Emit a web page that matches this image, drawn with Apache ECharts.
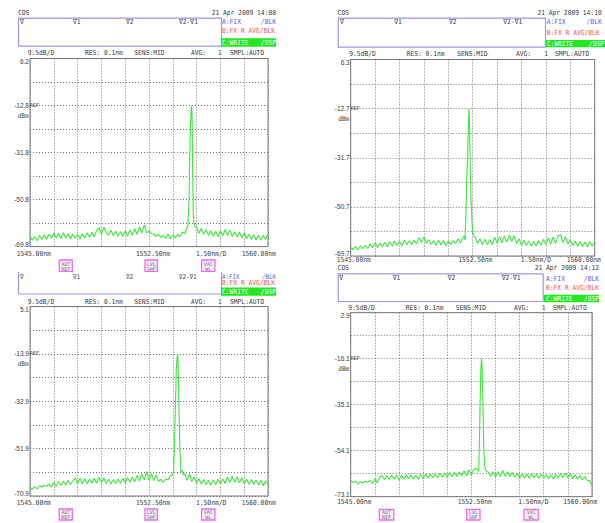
<!DOCTYPE html>
<html><head><meta charset="utf-8">
<script src="https://cdn.jsdelivr.net/npm/echarts@6/dist/echarts.min.js"></script>
<style>
html,body{margin:0;padding:0;background:#fff;width:605px;height:523px;overflow:hidden;}
.p{position:absolute;overflow:hidden;background:#fff;}
</style></head><body>
<div id="p1" class="p"></div>
<div id="p2" class="p"></div>
<div id="p3" class="p"></div>
<div id="p4" class="p"></div>
<script>
// ---------- DATA ----------
const wlGrid = [
1545.00,1545.15,1545.30,1545.45,1545.60,1545.75,1545.90,
1546.05,1546.20,1546.35,1546.50,1546.65,1546.80,1546.95,
1547.10,1547.25,1547.40,1547.55,1547.70,1547.85,
1548.00,1548.15,1548.30,1548.45,1548.60,1548.75,1548.90,
1549.05,1549.20,1549.35,1549.50,1549.65,1549.80,1549.95,
1550.10,1550.25,1550.40,1550.55,1550.70,1550.85,
1551.00,1551.15,1551.30,1551.45,1551.60,1551.75,1551.90,
1552.05,1552.20,1552.35,1552.50,1552.65,1552.80,1552.95,
1553.10,1553.25,1553.40,1553.55,1553.70,1553.85,
1554.00,1554.15,1554.30,1554.45,1554.60,1554.75,1554.90,
1555.05,1555.20,1555.35,1555.50,1555.65,1555.80,1555.95,
1556.10,1556.25,1556.40,1556.55,1556.70,1556.85,
1557.00,1557.15,1557.30,1557.45,1557.60,1557.75,1557.90,
1558.05,1558.20,1558.35,1558.50,1558.65,1558.80,1558.95,
1559.10,1559.25,1559.40,1559.55,1559.70,1559.85,1560.00];

// panel 1 (top-left, 14:08)
const noise1 = [
-65.4,-67.2,-65.6,-67.5,-65.2,-66.9,-65.0,
-66.8,-64.7,-66.4,-64.3,-66.2,-64.5,-66.5,
-64.2,-66.3,-64.6,-66.7,-64.7,-66.4,
-64.9,-66.8,-64.6,-66.3,-64.2,-66.0,-64.0,
-65.8,-63.2,-62.2,-64.9,-61.9,-64.2,-65.2,
-63.2,-65.4,-63.6,-65.6,-63.7,-65.7,
-63.4,-65.5,-63.1,-65.2,-62.6,-64.9,-61.8,
-64.4,-61.0,-64.2,-63.6,-64.6,-64.8,-65.6,
-64.9,-66.2,-65.2,-66.5,-64.7,-66.6,
-65.1,-66.3,-64.8,-65.8,-63.9,-64.6,null,
null,null,null,-61.9,-64.4,-62.5,-64.8,
-62.9,-65.2,-63.4,-65.6,-63.6,-65.7,
-63.4,-65.4,-62.9,-65.3,-63.3,-65.6,-63.8,
-65.9,-64.0,-66.2,-64.4,-66.6,-64.8,-66.9,
-65.0,-67.1,-65.2,-67.2,-65.3,-66.9,-64.6];
const peakWl1 = [1554.85,1554.95,1555.02,1555.07,1555.12,1555.16,1555.19,1555.22,1555.25,1555.29,1555.34,1555.40];
const peakDb1 = [-63.0,-61.0,-52.0,-33.0,-20.0,-14.5,-12.8,-19.0,-38.0,-56.0,-60.5,-61.8];

// panel 2 (top-right, 14:10)
const noise2 = [
-66.4,-67.2,-66.0,-67.5,-65.8,-66.9,-65.7,
-66.8,-65.0,-66.5,-64.6,-66.4,-64.7,-66.0,
-64.4,-66.1,-64.2,-65.8,-63.9,-65.6,
-64.1,-65.7,-63.6,-65.3,-63.8,-65.2,-63.5,
-64.9,-62.6,-64.5,-62.3,-64.7,-63.4,-65.2,
-63.8,-65.5,-63.6,-65.4,-63.7,-65.6,
-63.9,-65.3,-63.7,-64.8,-63.0,-64.7,-62.6,
null,null,null,null,-62.5,-64.9,-63.0,
-65.3,-63.2,-65.4,-63.3,-65.2,-62.4,
-64.8,-62.2,-64.6,-61.9,-64.4,-61.6,-64.1,
-61.9,-64.9,-63.0,-65.4,-63.6,-65.6,-63.9,
-65.8,-64.0,-65.7,-63.8,-65.5,-63.2,
-65.3,-62.6,-65.1,-62.3,-64.8,-61.9,-61.4,
-64.5,-62.2,-65.0,-63.4,-65.7,-63.9,-65.9,
-64.1,-66.0,-64.3,-66.1,-64.2,-65.8,-64.0];
const peakWl2 = [1551.97,1552.03,1552.09,1552.13,1552.19,1552.23,1552.27,1552.30,1552.33,1552.40,1552.46,1552.50,1552.55];
const peakDb2 = [-62.0,-63.5,-51.9,-41.0,-31.3,-21.0,-12.8,-18.0,-28.7,-48.0,-57.0,-60.7,-61.6];

// panel 3 (bottom-left)
const noise3 = [
-67.2,-68.3,-67.0,-68.1,-66.8,-67.3,-66.6,
-67.0,-66.2,-67.3,-65.4,-67.1,-65.1,-66.7,
-65.0,-66.5,-64.6,-66.3,-64.9,-63.7,
-65.9,-63.9,-66.0,-64.0,-66.1,-64.1,-65.8,
-63.8,-65.8,-63.4,-65.5,-63.7,-65.9,-64.2,
-66.1,-64.3,-66.0,-64.1,-65.8,-63.8,
-65.6,-63.6,-65.4,-63.4,-65.2,-62.6,-64.9,
-62.0,-64.4,-61.0,-64.5,-61.8,-64.7,-62.5,
-65.0,-64.2,-65.4,-64.1,-64.5,-62.9,
null,null,null,null,null,-61.9,-64.6,
-62.0,-65.1,-63.2,-65.8,-64.0,-66.1,-64.3,
-66.4,-64.6,-66.6,-64.5,-66.3,-64.3,
-66.0,-64.0,-65.9,-63.3,-65.5,-63.0,-65.4,
-63.2,-65.6,-63.6,-65.9,-64.2,-66.2,-64.3,
-66.3,-64.5,-66.5,-64.6,-66.8,-64.8,-66.5];
const peakWl3 = [1553.98,1554.05,1554.10,1554.16,1554.22,1554.27,1554.31,1554.35,1554.39,1554.45,1554.51,1554.58,1554.66];
const peakDb3 = [-62.5,-60.8,-52.4,-36.4,-20.0,-15.0,-13.9,-22.0,-36.4,-52.4,-61.2,-60.5,-62.5];

// panel 4 (bottom-right, 14:12)
const noise4 = [
-66.4,-67.3,-66.6,-67.9,-66.9,-67.5,-66.7,
-67.1,-66.4,-67.6,-65.8,-67.4,-65.0,-64.4,
-66.1,-64.3,-66.0,-64.1,-65.9,-64.2,
-66.2,-64.3,-65.9,-64.0,-65.8,-64.2,-65.9,
-64.1,-65.9,-63.9,-65.6,-63.8,-65.5,-63.7,
-65.3,-63.6,-65.2,-63.4,-65.1,-63.3,
-64.9,-63.2,-64.8,-63.0,-64.7,-62.9,-64.4,
-62.4,-64.5,-62.0,-64.1,-61.7,-61.5,null,
null,null,null,-62.9,-64.8,-62.8,
-65.0,-62.7,-64.9,-62.3,-64.7,-62.8,-64.9,
-63.1,-65.1,-63.4,-65.4,-63.7,-65.5,-63.8,
-65.4,-63.6,-65.3,-63.7,-65.5,-63.8,
-65.6,-63.9,-65.7,-64.1,-65.8,-63.7,-65.5,
-63.4,-65.2,-63.3,-65.4,-63.5,-65.7,-64.0,
-65.9,-64.3,-66.2,-64.8,-66.4,-66.3,-68.8];
const peakWl4 = [1552.90,1552.96,1553.00,1553.04,1553.08,1553.11,1553.14,1553.17,1553.20,1553.27,1553.33,1553.40,1553.48];
const peakDb4 = [-62.0,-62.8,-51.0,-35.9,-22.1,-18.0,-16.1,-19.5,-27.7,-52.4,-60.7,-62.2,-62.8];

// tick values / labels
const yTicks1 = [6.2,-3.3,-12.8,-22.3,-31.8,-41.3,-50.8,-60.3,-69.8];
const yLabels1 = [6.2,-12.8,-31.8,-50.8,-69.8];
const yTicks2 = [6.3,-3.2,-12.7,-22.2,-31.7,-41.2,-50.7,-60.2,-69.7];
const yLabels2 = [6.3,-12.7,-31.7,-50.7,-69.7];
const yTicks3 = [5.1,-4.4,-13.9,-23.4,-32.9,-42.4,-51.9,-61.4,-70.9];
const yLabels3 = [5.1,-13.9,-32.9,-51.9,-70.9];
const yTicks4 = [2.9,-6.6,-16.1,-25.6,-35.1,-44.6,-54.1,-63.6,-73.1];
const yLabels4 = [2.9,-16.1,-35.1,-54.1,-73.1];
const refLevels = [-12.8,-12.7,-13.9,-16.1];
const xMin = 1545.00, xMax = 1560.00, xDiv = 1.5;
const xLabelTexts = ['1545.00nm','1552.50nm','1.50nm/D','1560.00nm'];
const dates = ['21 Apr 2009 14:08','21 Apr 2009 14:10','','21 Apr 2009 14:12'];
const headerTexts = ['9.5dB/D','RES: 0.1nm','SENS:MID','AVG:','1','SMPL:AUTO'];
const markerTexts = ['\u2207','\u22071','\u22072','\u22072-\u22071'];
const legendTexts = ['A:FIX','/BLK','B:FX R AVG/BLK','C:WRITE','/DSP'];
const buttonTexts = ['AUT\nREF','LVL\nSHF','VAC\nWL'];

// ---------- LAYOUT (page pixels) ----------
const panels = [
 { id:'p1', div:[0,0,300,272], plot:[30,58.5,268,246.6], ticks:yTicks1, labels:yLabels1, ref:refLevels[0], date:dates[0],
   noise:noise1, pw:peakWl1, pd:peakDb1,
   cos:[18,13], dateEnd:[276,13], box:[18,17.7,221,45.7], markY:21.5, markX:[20,73,126,179],
   legX:222, legRight:276, aY:21.7, bY:31, cRect:[221,38.3,276,46.7],
   headY:52.5, headX:[27.7,85,134.3,191,218,230], xlY:253.7, xlX:[16.7,136,196,241.7],
   btnY:[260,271.7], btnX:[[59.3,72.3],[145,157.3],[201.7,215]] },
 { id:'p2', div:[300,0,305,263], plot:[350.7,59.5,594.7,256], ticks:yTicks2, labels:yLabels2, ref:refLevels[1], date:dates[1],
   noise:noise2, pw:peakWl2, pd:peakDb2,
   cos:[337.7,13.3], dateEnd:[601.7,13.3], box:[337.7,17.7,545,46.7], markY:22, markX:[340,394.3,449,503.3],
   legX:546.7, legRight:601.7, dspRight:604, aY:22, bY:33.3, cRect:[546,40,607,47.3],
   headY:53.7, headX:[349.3,406.7,457.3,516,544.3,555], xlY:259.6, xlX:[336.7,458.3,520.7,566.7],
   btnY:[268,279], btnX:[] },
 { id:'p3', div:[0,272,300,251], plot:[30,306.6,268,496], ticks:yTicks3, labels:yLabels3, ref:refLevels[2], date:dates[2],
   noise:noise3, pw:peakWl3, pd:peakDb3,
   cos:[18,262], dateEnd:[276,262], box:[18,266,221,293.5], markY:276, markX:[20,73,126,179], markSize:6.5,
   legX:222, legRight:276, aY:276, aSize:6.5, bY:282.6, cRect:[221,287.6,276,295.7],
   headY:301.7, headX:[27.7,85,134.3,191,218,230], xlY:503.3, xlX:[16.7,136,196,241.7],
   btnY:[509,520], btnX:[[59.3,72.3],[145,157.3],[201.7,215]] },
 { id:'p4', div:[300,263,305,260], plot:[350.7,312.7,592,496.7], ticks:yTicks4, labels:yLabels4, ref:refLevels[3], date:dates[3],
   noise:noise4, pw:peakWl4, pd:peakDb4,
   cos:[337.7,268.3], dateEnd:[599,268.3], box:[337.7,273.3,542.7,301], markY:278, markX:[339.3,392.7,447.7,501.7],
   legX:546, legRight:599, aY:279, bY:288.3, cRect:[544,294.7,599,302.3],
   headY:307.7, headX:[348.3,405.7,455.7,514,541.7,552.7], xlY:502.3, xlX:[337.3,457.7,518.3,563.3],
   btnY:[509.3,520], btnX:[[379.3,393.7],[466.7,480],[524,538.3]] }
];

const FONT = '"DejaVu Sans Mono", "Liberation Mono", monospace';
const YFONT = '"Liberation Sans Narrow", "Liberation Sans", sans-serif';
const TXT = '#3a3a3a';

function traceData(noise, pw, pd) {
  const pts = [];
  wlGrid.forEach((w, i) => { if (noise[i] !== null) pts.push([w, noise[i]]); });
  pw.forEach((w, i) => pts.push([w, pd[i]]));
  pts.sort((a, b) => a[0] - b[0]);
  return pts;
}

function build(P) {
  const el = document.getElementById(P.id);
  const [ox, oy, dw, dh] = P.div;
  el.style.left = ox + 'px'; el.style.top = oy + 'px';
  el.style.width = dw + 'px'; el.style.height = dh + 'px';
  const chart = echarts.init(el, null, { renderer: 'svg', width: dw, height: dh });
  const G = [];
  const inView = y => y > oy - 4 && y < oy + dh + 4;
  function text(x, y, s, o) {
    o = o || {};
    if (!s || !inView(y)) return;
    const al = o.align || 'left';
    G.push({ type: 'text', x: x - ox, y: y - oy, scaleX: o.sx == null ? 0.9 : o.sx, z: 20, silent: true,
      style: { text: s, fill: o.color || TXT, fontSize: o.size || 7, fontFamily: o.family || FONT,
        align: al, textAlign: al, verticalAlign: 'middle', textVerticalAlign: 'middle',
        lineHeight: o.lh || undefined } });
  }
  function rect(x1, y1, x2, y2, style) {
    G.push({ type: 'rect', z: 15, silent: true,
      shape: { x: x1 - ox, y: y1 - oy, width: x2 - x1, height: y2 - y1 }, style: style });
  }
  // header area
  text(P.cos[0], P.cos[1], 'COS');
  text(P.dateEnd[0], P.dateEnd[1], P.date, { align: 'right' });
  rect(P.box[0] + 0.5, P.box[1] + 0.5, P.box[2] + 0.5, P.box[3] + 0.5, { fill: 'none', stroke: '#a694ea', lineWidth: 1.2 });
  P.markX.forEach((x, i) => text(x, P.markY, markerTexts[i], { size: P.markSize }));
  text(P.legX, P.aY, legendTexts[0], { color: '#5b5bff', size: P.aSize });
  text(P.legRight, P.aY, legendTexts[1], { color: '#5b5bff', align: 'right', size: P.aSize });
  text(P.legX, P.bY, legendTexts[2], { color: '#ff4f4f' });
  rect(P.cRect[0], P.cRect[1], P.cRect[2], P.cRect[3], { fill: '#22e622', stroke: 'none' });
  const cy = (P.cRect[1] + P.cRect[3]) / 2;
  text(P.legX, cy, legendTexts[3], { color: '#ffffff' });
  text(P.dspRight || P.legRight, cy, legendTexts[4], { color: '#ffffff', align: 'right' });
  P.headX.forEach((x, i) => text(x, P.headY, headerTexts[i]));
  // x labels
  P.xlX.forEach((x, i) => text(x, P.xlY, xLabelTexts[i]));
  // buttons
  P.btnX.forEach((bx, i) => {
    if (!inView(P.btnY[0])) return;
    rect(bx[0], P.btnY[0], bx[1], P.btnY[1], { fill: '#fdeefd', stroke: '#ee6aee', lineWidth: 1.3 });
    text((bx[0] + bx[1]) / 2, (P.btnY[0] + P.btnY[1]) / 2 + 0.3, buttonTexts[i], { size: 5, sx: 1, align: 'center', color: '#707070', lh: 5 });
  });

  const [L, T, R, B] = P.plot;
  const yMax = P.ticks[0], yMin = P.ticks[P.ticks.length - 1];
  const grid = { left: L - ox, top: T - oy, width: R - L, height: B - T, show: true,
    borderColor: '#7a7a7a', borderWidth: 1, backgroundColor: 'rgba(0,0,0,0)',
    containLabel: false, outerBoundsMode: 'none' };
  const dotted = { color: '#707070', type: [1, 2], width: 1 };
  const lblStyle = { fontSize: 6.5, fontFamily: YFONT, color: TXT };
  const option = {
    animation: false,
    backgroundColor: '#ffffff',
    grid: grid,
    xAxis: { type: 'value', min: xMin, max: xMax, interval: xDiv,
      axisLine: { show: false }, axisTick: { show: false }, axisLabel: { show: false },
      splitLine: { show: true, lineStyle: dotted } },
    yAxis: { type: 'value', min: yMin, max: yMax,
      axisLine: { show: false },
      axisTick: { show: false, customValues: P.ticks },
      axisLabel: { show: true, customValues: P.labels, margin: 1,
        fontSize: 6.5, fontFamily: YFONT, color: TXT,
        formatter: v => {
          const s = Number(v).toFixed(1);
          if (Math.abs(v - yMax) < 1e-6) return '{t|' + s + '}';
          if (Math.abs(v - yMin) < 1e-6) return '{b|' + s + '}';
          return s;
        },
        rich: { t: Object.assign({ padding: [6, 0, 0, 0] }, lblStyle),
                b: Object.assign({ padding: [0, 0, 5, 0] }, lblStyle) } },
      splitLine: { show: true, lineStyle: dotted } },
    series: [{ type: 'line', data: traceData(P.noise, P.pw, P.pd), showSymbol: false, symbol: 'none',
      lineStyle: { color: '#3fe63f', width: 1.1 }, silent: true, clip: true, z: 5 }],
    graphic: G.slice()
  };
  chart.setOption(option);
  const rp = chart.convertToPixel({ gridIndex: 0 }, [xMin, P.ref]);
  text(rp[0] + ox, rp[1] + oy - 1, 'REF', { size: 5, sx: 1 });
  text(rp[0] + ox - 12.5, rp[1] + oy + 9.5, 'dBm', { size: 6.5, sx: 0.95 });
  chart.setOption({ graphic: G });
}
panels.forEach(build);
</script>
</body></html>
